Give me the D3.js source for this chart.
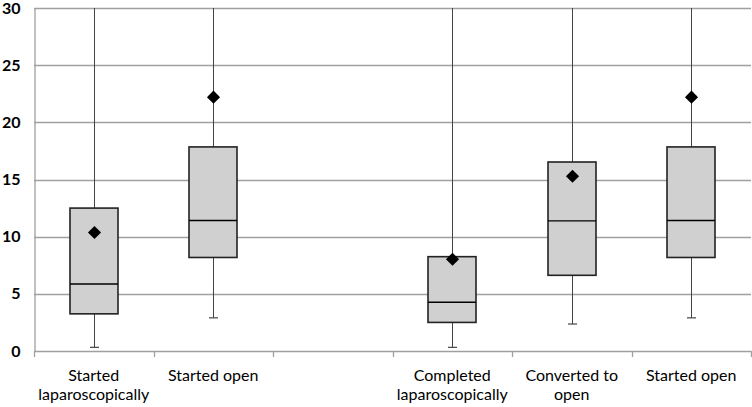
<!DOCTYPE html>
<html>
<head>
<meta charset="utf-8">
<script src="https://cdn.jsdelivr.net/npm/d3@7"></script>
<style>
body { margin: 0; background: #fff; }
svg { display: block; }
</style>
</head>
<body>
<svg width="752" height="407"></svg>
<script>
var svg = d3.select("svg"),
    width = +svg.attr("width"),
    height = +svg.attr("height");

// categories (empty slot in the middle separates the two groups)
var labels = [["Started", "laparoscopically"], ["Started open"], [],
              ["Completed", "laparoscopically"], ["Converted to", "open"], ["Started open"]];
var lowWhisker = [0.32, 2.9, null, 0.32, 2.36, 2.9];
var q1 = [3.25, 8.18, null, 2.5, 6.62, 8.18];
var median = [5.86, 11.42, null, 4.26, 11.38, 11.42];
var q3 = [12.5, 17.85, null, 8.25, 16.53, 17.85];
var highWhisker = [30, 30, null, 30, 30, 30];
var mean = [10.36, 22.2, null, 8.02, 15.28, 22.2];
var yTicks = [0, 5, 10, 15, 20, 25, 30];

var margin = {left: 34, right: 1, top: 8, bottom: 56};

var x = d3.scaleBand()
    .domain(d3.range(labels.length))
    .range([margin.left, width - margin.right])
    .paddingInner(0)
    .paddingOuter(0);

var y = d3.scaleLinear()
    .domain([0, 30])
    .range([height - margin.bottom, margin.top]);

// gridlines
svg.append("g")
    .selectAll("line")
    .data(yTicks)
    .enter().append("line")
    .attr("x1", margin.left)
    .attr("x2", width - margin.right)
    .attr("y1", function (d) { return Math.round(y(d)) + 0.5; })
    .attr("y2", function (d) { return Math.round(y(d)) + 0.5; })
    .attr("stroke", "#a0a0a0")
    .attr("stroke-width", 1.3);

// y axis
var yAxis = svg.append("g")
    .attr("transform", "translate(" + (margin.left + 0.5) + ",0)")
    .call(d3.axisLeft(y).tickValues(yTicks).tickSize(0).tickPadding(14));
yAxis.select(".domain").attr("stroke", "#a0a0a0").attr("stroke-width", 1.3);
yAxis.selectAll("text")
    .attr("font-family", "Lato, 'Open Sans', sans-serif")
    .attr("font-size", 16)
    .attr("font-weight", "bold")
    .attr("fill", "#000");

// x axis with ticks between categories
var edges = d3.range(labels.length + 1).map(function (i) {
    return i < labels.length ? x(i) : x(labels.length - 1) + x.bandwidth();
});
svg.append("g")
    .selectAll("line")
    .data(edges)
    .enter().append("line")
    .attr("x1", function (d) { return Math.round(d) + 0.5; })
    .attr("x2", function (d) { return Math.round(d) + 0.5; })
    .attr("y1", y(0))
    .attr("y2", y(0) + 6)
    .attr("stroke", "#a0a0a0")
    .attr("stroke-width", 1.3);

var lab = svg.append("g")
    .selectAll("text")
    .data(labels)
    .enter().append("text")
    .attr("x", function (d, i) { return x(i) + x.bandwidth() / 2; })
    .attr("y", y(0) + 30)
    .attr("text-anchor", "middle")
    .attr("font-family", "Lato, 'Open Sans', sans-serif")
    .attr("font-size", 16)
    .attr("fill", "#000");
lab.selectAll("tspan")
    .data(function (d) { return d; })
    .enter().append("tspan")
    .attr("x", function () { return d3.select(this.parentNode).attr("x"); })
    .attr("dy", function (d, i) { return i === 0 ? 0 : 19; })
    .text(function (d) { return d; });

// box plots
var boxW = 48, capW = 8;
var idx = d3.range(labels.length).filter(function (i) { return q1[i] !== null; });

var boxes = svg.append("g")
    .selectAll("g")
    .data(idx)
    .enter().append("g")
    .attr("transform", function (i) { return "translate(" + Math.round(x(i) + x.bandwidth() / 2) + ",0)"; });

boxes.append("line")
    .attr("x1", 0.5).attr("x2", 0.5)
    .attr("y1", function (i) { return y(highWhisker[i]); })
    .attr("y2", function (i) { return y(lowWhisker[i]); })
    .attr("stroke", "#444")
    .attr("stroke-width", 1);

boxes.append("line")
    .attr("x1", -capW / 2).attr("x2", capW / 2 + 1)
    .attr("y1", function (i) { return y(lowWhisker[i]); })
    .attr("y2", function (i) { return y(lowWhisker[i]); })
    .attr("stroke", "#444")
    .attr("stroke-width", 1.2);

boxes.append("rect")
    .attr("x", -boxW / 2)
    .attr("width", boxW)
    .attr("y", function (i) { return y(q3[i]); })
    .attr("height", function (i) { return y(q1[i]) - y(q3[i]); })
    .attr("fill", "#d0d0d0")
    .attr("stroke", "#222")
    .attr("stroke-width", 1.6);

boxes.append("line")
    .attr("x1", -boxW / 2).attr("x2", boxW / 2)
    .attr("y1", function (i) { return y(median[i]); })
    .attr("y2", function (i) { return y(median[i]); })
    .attr("stroke", "#000")
    .attr("stroke-width", 1.4);

boxes.append("path")
    .attr("d", d3.symbol().type(d3.symbolDiamond2).size(110))
    .attr("transform", function (i) { return "translate(0.5," + y(mean[i]) + ")"; })
    .attr("fill", "#000");
</script>
</body>
</html>
